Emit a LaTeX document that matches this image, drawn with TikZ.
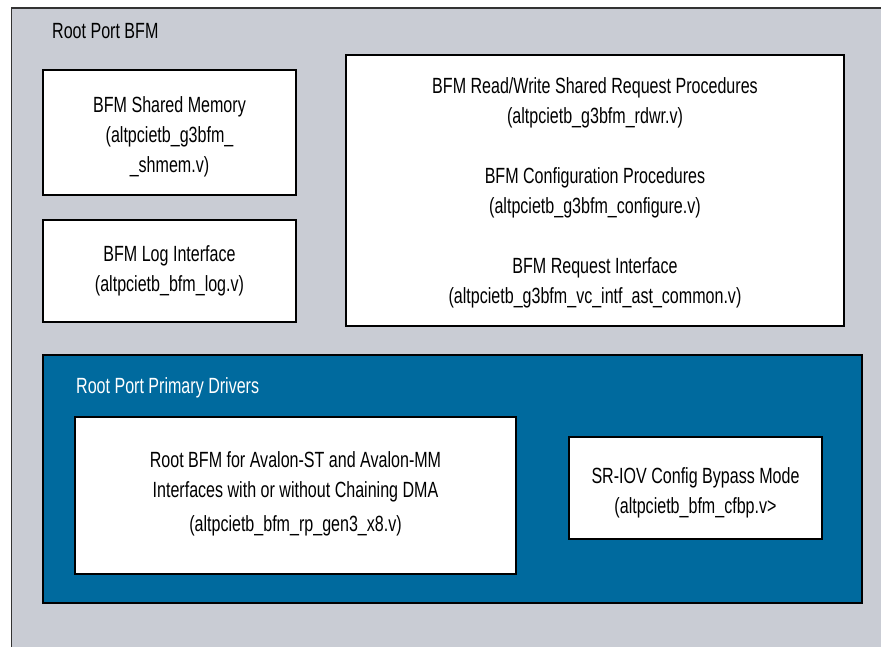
\documentclass[tikz,border=0pt]{standalone}
\usepackage{fontspec}
\setmainfont[FakeStretch=0.73]{Liberation Sans}
\definecolor{bggray}{HTML}{C9CCD4}
\definecolor{drvblue}{HTML}{006A9E}
\definecolor{edgegray}{HTML}{333333}
\begin{document}
\begin{tikzpicture}[x=1pt,y=-1pt,
  box/.style={draw=black,line width=1.4pt,fill=white},
  txt/.style={align=center,font=\fontsize{22}{30}\selectfont,inner sep=0pt},
  lbl/.style={anchor=west,font=\fontsize{22}{30}\selectfont,inner sep=0pt}]
\useasboundingbox (0,0) rectangle (881,647);
% outer
\draw[fill=bggray,draw=edgegray,line width=1.4pt] (11.5,8) rectangle (900,670);
\node[lbl] (title) at (52,31) {Root Port BFM};
% shared memory
\draw[box] (43,70) rectangle (296,195);
\node[txt] (shmem) at (169.5,137) {BFM Shared Memory\\(altpcietb\_g3bfm\_\\\_shmem.v)};
% log
\draw[box] (43,220) rectangle (296,322);
\node[txt] (log) at (169.5,271) {BFM Log Interface\\(altpcietb\_bfm\_log.v)};
% right box
\draw[box] (346,55) rectangle (844,326);
\node[txt] (rdwr) at (595,103) {BFM Read/Write Shared Request Procedures\\(altpcietb\_g3bfm\_rdwr.v)};
\node[txt] (cfg) at (595,193) {BFM Configuration Procedures\\(altpcietb\_g3bfm\_configure.v)};
\node[txt] (req) at (595,283) {BFM Request Interface\\(altpcietb\_g3bfm\_vc\_intf\_ast\_common.v)};
% blue drivers
\draw[fill=drvblue,draw=black,line width=1.4pt] (43,355) rectangle (862,603);
\node[lbl,text=white] (drv) at (76,388) {Root Port Primary Drivers};
\draw[box] (75,417) rectangle (516,574);
\node[txt] (rootbfm) at (295.5,477) {Root BFM for Avalon-ST and Avalon-MM\\Interfaces with or without Chaining DMA};
\node[txt] (rootfile) at (295.5,526) {(altpcietb\_bfm\_rp\_gen3\_x8.v)};
\draw[box] (569,437) rectangle (822,539);
\node[txt] (sriov) at (695.5,493) {SR-IOV Config Bypass Mode\\(altpcietb\_bfm\_cfbp.v>};
\end{tikzpicture}
\end{document}
